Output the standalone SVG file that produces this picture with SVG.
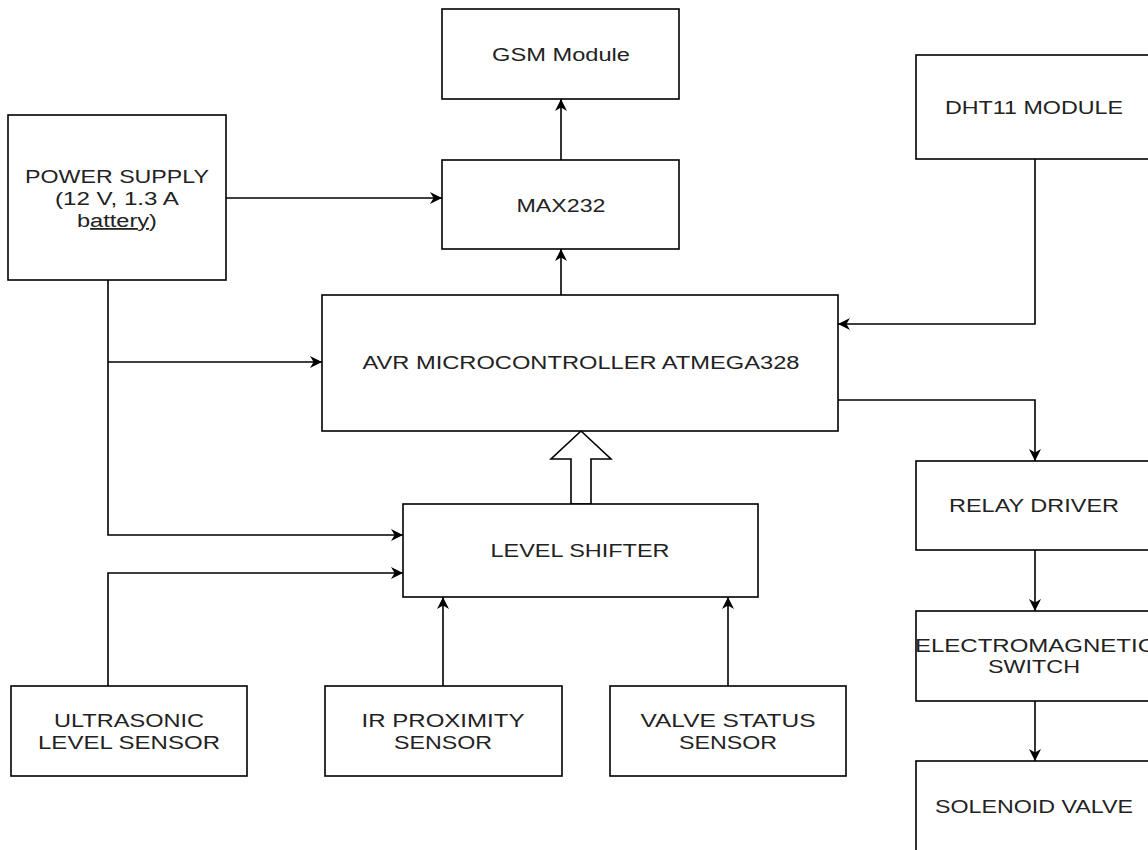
<svg xmlns="http://www.w3.org/2000/svg" width="1148" height="850" viewBox="0 0 1148 850">
<style>
.box{fill:#fff;stroke:#000;stroke-width:1.6}
.t{font-family:"Liberation Sans",Arial,sans-serif;font-size:18px;fill:#222;text-anchor:middle}
.c{fill:none;stroke:#000;stroke-width:1.6}
</style>
<defs>
<marker id="ah" viewBox="0 0 10 10" refX="10" refY="5" markerWidth="12" markerHeight="12" markerUnits="userSpaceOnUse" orient="auto">
<path d="M0,0 L10,5 L0,10 L3,5 z" fill="#000"/>
</marker>
</defs>
<rect width="1148" height="850" fill="#fff"/>
<g id="connectors">
<path class="c" d="M226,198 H442" marker-end="url(#ah)"/>
<path class="c" d="M561,249 V99" marker-end="url(#ah)"/>
<path class="c" d="M561,295 V249" marker-end="url(#ah)"/>
<path class="c" d="M108,280 V535 H403" marker-end="url(#ah)"/>
<path class="c" d="M108,362 H322" marker-end="url(#ah)"/>
<path class="c" d="M108,686 V573 H403" marker-end="url(#ah)"/>
<path class="c" d="M443,686 V597" marker-end="url(#ah)"/>
<path class="c" d="M728,686 V597" marker-end="url(#ah)"/>
<path class="c" d="M1035,159 V324 H838" marker-end="url(#ah)"/>
<path class="c" d="M838,400 H1035 V461" marker-end="url(#ah)"/>
<path class="c" d="M1035,550 V611" marker-end="url(#ah)"/>
<path class="c" d="M1035,701 V761" marker-end="url(#ah)"/>
<polygon points="581,431 611,459 591,459 591,504 571,504 571,459 551,459" fill="#fff" stroke="#000" stroke-width="1.6" stroke-linejoin="miter"/>
</g>
<g id="gsm">
<rect class="box" x="442" y="9" width="237" height="90"/>
<text class="t" x="561" y="61" textLength="138" lengthAdjust="spacingAndGlyphs">GSM Module</text>
</g>
<g id="max232">
<rect class="box" x="442" y="160" width="237" height="89"/>
<text class="t" x="561" y="212" textLength="89" lengthAdjust="spacingAndGlyphs">MAX232</text>
</g>
<g id="power">
<rect class="box" x="8" y="115" width="218" height="165"/>
<text class="t" x="117" y="183" textLength="184" lengthAdjust="spacingAndGlyphs">POWER SUPPLY</text>
<text class="t" x="117" y="205" textLength="124" lengthAdjust="spacingAndGlyphs">(12 V, 1.3 A</text>
<text class="t" x="117" y="227" textLength="80" lengthAdjust="spacingAndGlyphs">b<tspan text-decoration="underline">attery</tspan>)</text>
</g>
<g id="dht11">
<rect class="box" x="916" y="55" width="238" height="104"/>
<text class="t" x="1034" y="114" textLength="178" lengthAdjust="spacingAndGlyphs">DHT11 MODULE</text>
</g>
<g id="avr">
<rect class="box" x="322" y="295" width="516" height="136"/>
<text class="t" x="581" y="369" textLength="437" lengthAdjust="spacingAndGlyphs">AVR MICROCONTROLLER ATMEGA328</text>
</g>
<g id="level-shifter">
<rect class="box" x="403" y="504" width="355" height="93"/>
<text class="t" x="580" y="557" textLength="179" lengthAdjust="spacingAndGlyphs">LEVEL SHIFTER</text>
</g>
<g id="ultrasonic">
<rect class="box" x="11" y="686" width="236" height="90"/>
<text class="t" x="129" y="727" textLength="150" lengthAdjust="spacingAndGlyphs">ULTRASONIC</text>
<text class="t" x="129" y="749" textLength="182" lengthAdjust="spacingAndGlyphs">LEVEL SENSOR</text>
</g>
<g id="ir">
<rect class="box" x="325" y="686" width="237" height="90"/>
<text class="t" x="443" y="727" textLength="163" lengthAdjust="spacingAndGlyphs">IR PROXIMITY</text>
<text class="t" x="443" y="749" textLength="98" lengthAdjust="spacingAndGlyphs">SENSOR</text>
</g>
<g id="valve-status">
<rect class="box" x="610" y="686" width="236" height="90"/>
<text class="t" x="728" y="727" textLength="175" lengthAdjust="spacingAndGlyphs">VALVE STATUS</text>
<text class="t" x="728" y="749" textLength="98" lengthAdjust="spacingAndGlyphs">SENSOR</text>
</g>
<g id="relay">
<rect class="box" x="916" y="461" width="238" height="89"/>
<text class="t" x="1034" y="512" textLength="170" lengthAdjust="spacingAndGlyphs">RELAY DRIVER</text>
</g>
<g id="em-switch">
<rect class="box" x="916" y="611" width="238" height="90"/>
<text class="t" x="1035" y="652" textLength="240" lengthAdjust="spacingAndGlyphs">ELECTROMAGNETIC</text>
<text class="t" x="1034" y="673" textLength="92" lengthAdjust="spacingAndGlyphs">SWITCH</text>
</g>
<g id="solenoid">
<rect class="box" x="916" y="761" width="238" height="100"/>
<text class="t" x="1034" y="813" textLength="198" lengthAdjust="spacingAndGlyphs">SOLENOID VALVE</text>
</g>
</svg>
